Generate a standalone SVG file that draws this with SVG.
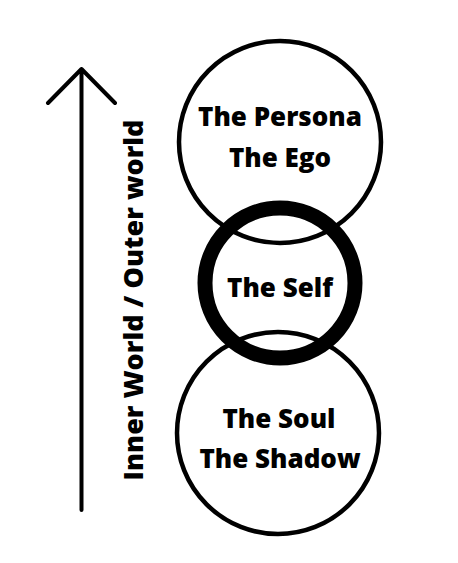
<svg xmlns="http://www.w3.org/2000/svg" width="458" height="563" viewBox="0 0 458 563">
  <style>
    .ring { fill: none; stroke: #000; stroke-width: 4.5; }
    .self { fill: none; stroke: #000; stroke-width: 15; }
    .lbl { font-family: "Open Sans", "Liberation Sans", sans-serif; font-weight: 800; font-size: 26px; fill: #000; text-anchor: middle; }
    .axis { fill: none; stroke: #000; stroke-width: 4; stroke-linecap: round; stroke-linejoin: round; }
  </style>
  <rect width="458" height="563" fill="#fff"/>
  <g id="persona">
    <circle class="ring" cx="280" cy="142" r="101"/>
    <text class="lbl" x="280" y="126">The Persona</text>
    <text class="lbl" x="280" y="167">The Ego</text>
  </g>
  <g id="soul">
    <circle class="ring" cx="278" cy="433" r="101"/>
    <text class="lbl" x="279" y="428">The Soul</text>
    <text class="lbl" x="280" y="468">The Shadow</text>
  </g>
  <g id="self">
    <circle class="self" cx="280" cy="283" r="75"/>
    <text class="lbl" x="280" y="297">The Self</text>
  </g>
  <g id="axis-label">
    <text class="lbl" transform="translate(143,300) rotate(-90)" style="font-size:27px">Inner World / Outer world</text>
  </g>
  <g id="connectors">
    <path class="axis" d="M81.5 510 V69 M48 103 L81.5 69 L115 103"/>
  </g>
</svg>
